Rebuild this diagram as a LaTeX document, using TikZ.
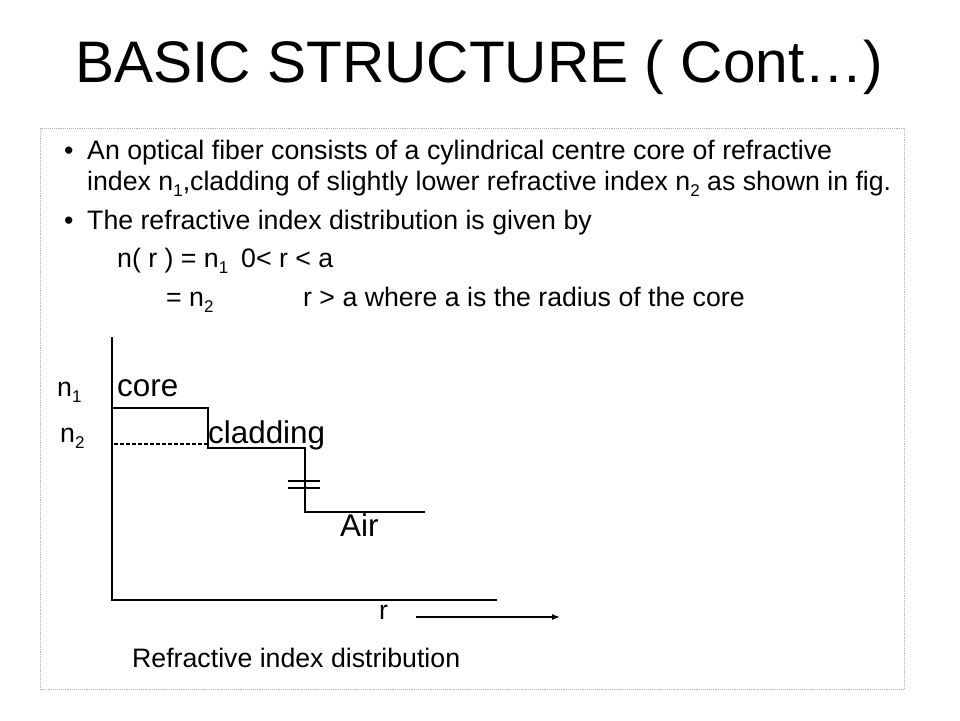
\documentclass[tikz,border=0pt]{standalone}
\usepackage{fontspec}
\setmainfont{Liberation Sans}
\usetikzlibrary{arrows.meta}
\newcommand{\subn}[1]{\raisebox{-6pt}{\fontsize{17}{17}\selectfont #1}}
\begin{document}
\begin{tikzpicture}[x=1pt,y=-1pt,
  txt/.style={anchor=base west, inner sep=0pt, font=\fontsize{26.7}{30}\selectfont},
  big/.style={anchor=base west, inner sep=0pt, font=\fontsize{31.4}{34}\selectfont},
  prof/.style={line width=1.2pt, black},
  frame/.style={gray!60, densely dotted, line width=0.9pt}]
\useasboundingbox (0,0) rectangle (960,720);
\fill[white] (0,0) rectangle (960,720);
% title
\node[anchor=base, inner sep=0pt, font=\fontsize{58.6}{60}\selectfont] (title) at (479,82) {BASIC STRUCTURE ( Cont…)};
% frame
\draw[frame] (40.5,128) rectangle (904,689);
% text
\node[txt] (b1) at (64,159) {•};
\node[txt] (l1) at (87,159) {An optical fiber consists of a cylindrical centre core of refractive};
\node[txt] (l2) at (87,190) {index n\subn{1},cladding of slightly lower refractive index n\subn{2} as shown in fig.};
\node[txt] (b2) at (64,229) {•};
\node[txt] (l3) at (87,229) {The refractive index distribution is given by};
\node[txt] (l4) at (117,267) {n( r ) = n\subn{1}};
\node[txt] (l5) at (241,267) {0< r < a};
\node[txt] (l6) at (166,306) {= n\subn{2}};
\node[txt] (l7) at (303,306) {r > a where a is the radius of the core};
% diagram coordinates
\coordinate (ytop) at (112,337);
\coordinate (orig) at (112,600);
\coordinate (xend) at (497,600);
\coordinate (c0) at (112,408);
\coordinate (c1) at (208,408);
\coordinate (c2) at (208,448);
\coordinate (c3) at (305,448);
\coordinate (c4) at (305,512);
\coordinate (c5) at (425,512);
\coordinate (t1a) at (288,481);
\coordinate (t1b) at (320,481);
\coordinate (t2a) at (288,488);
\coordinate (t2b) at (320,488);
\coordinate (d0) at (114,444);
\coordinate (d1) at (208,444);
\coordinate (a0) at (416,617);
\coordinate (a1) at (560,617);
% axes and profile
\draw[prof] (ytop) -- (orig) -- (xend);
\draw[prof] (c0) -- (c1) -- (c2) -- (c3) -- (c4) -- (c5);
\draw[prof] (t1a) -- (t1b);
\draw[prof] (t2a) -- (t2b);
\draw[prof, dash pattern=on 4pt off 2pt] (d0) -- (d1);
\draw[prof, -{Latex[length=8pt,width=6pt]}] (a0) -- (a1);
% labels
\node[txt] (n1) at (57,396) {n\subn{1}};
\node[big] (core) at (117,396) {core};
\node[txt] (n2) at (60,442) {n\subn{2}};
\node[big] (clad) at (208,443) {cladding};
\node[big] (air) at (340,536) {Air};
\node[txt] (r) at (379,619) {r};
\node[txt] (cap) at (132,667) {Refractive index distribution};
\end{tikzpicture}
\end{document}
